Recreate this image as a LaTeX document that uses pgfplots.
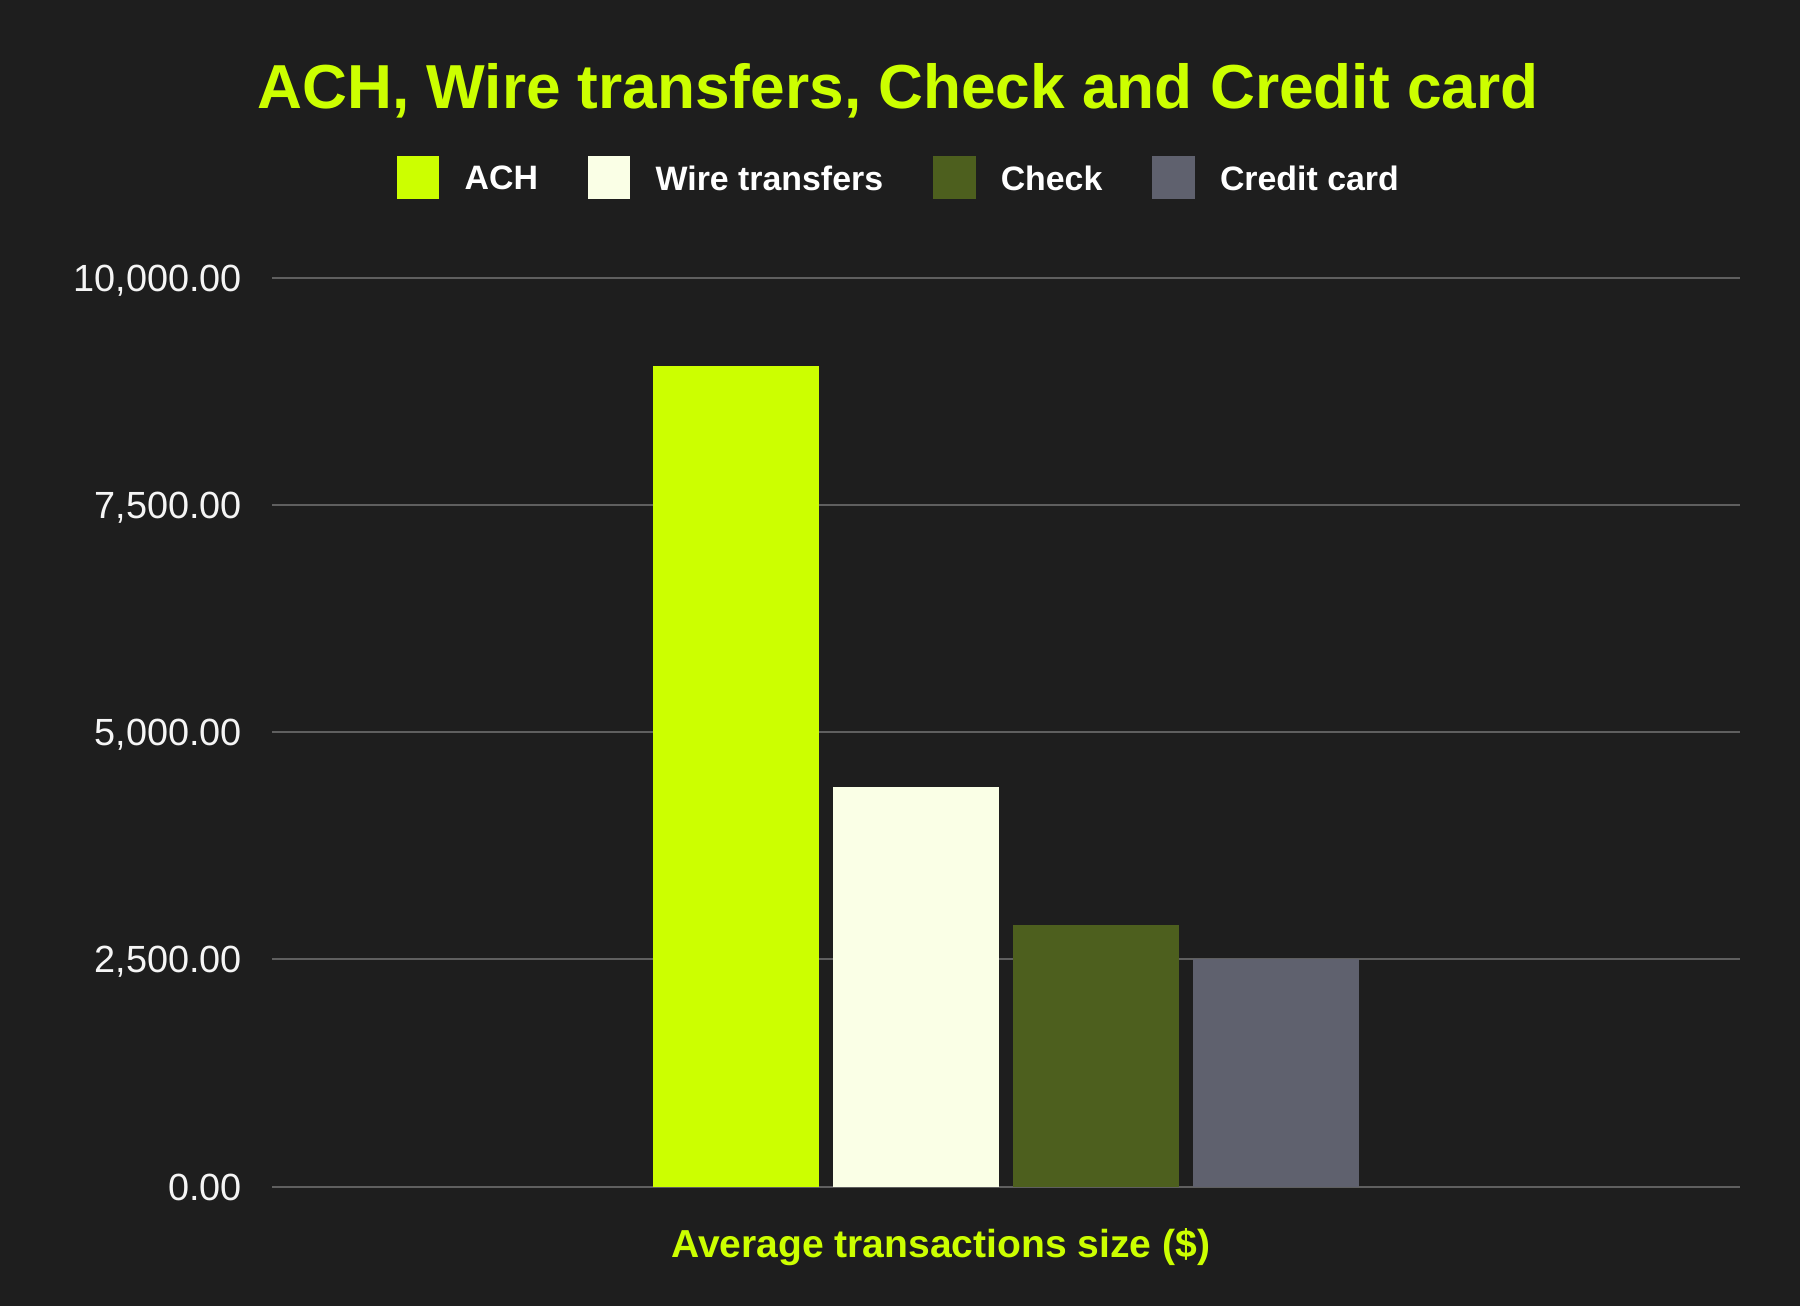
\documentclass[border=0pt]{standalone}
\usepackage{fontspec}
\setmainfont{Liberation Sans}
\usepackage{pgfplots}
\pgfplotsset{compat=1.18}

\definecolor{bg}{HTML}{1E1E1E}
\definecolor{lime}{HTML}{CCFF00}
\definecolor{wire}{HTML}{FAFFE6}
\definecolor{checkc}{HTML}{4D5F1E}
\definecolor{credit}{HTML}{5F616E}
\definecolor{gridc}{HTML}{5F5F5F}

\begin{document}
\begin{tikzpicture}
    \path[use as bounding box, fill=bg] (0,0) rectangle (450bp,326.5bp);
    \begin{axis}[
        at={(68bp,29.85bp)}, anchor=south west,
        scale only axis,
        width=367bp, height=227.2bp,
        ybar=3.5bp, bar width=41.5bp,
        xmin=-1, xmax=1,
        ymin=0, ymax=10000,
        enlargelimits=false,
        axis line style={draw=none},
        major tick length=0pt,
        xtick=\empty,
        ytick={0,2500,5000,7500,10000},
        ymajorgrids,
        major grid style={draw=gridc, line width=0.5bp},
        /pgf/number format/assume math mode=true,
        scaled y ticks=false,
        yticklabel={\pgfmathprintnumber[fixed, fixed zerofill, precision=2, 1000 sep={,}]{\tick}},
        yticklabel style={font=\fontsize{9.5}{11}\selectfont, color=white!96!black,
            anchor=base east, inner sep=0pt, xshift=-7.3bp, yshift=-3.4bp},
        title={ACH, Wire transfers, Check and Credit card},
        every axis title/.style={at={(axis description cs:0.4264,1.1864)}, anchor=base,
            font=\bfseries\fontsize{15.6}{18}\selectfont, color=lime, inner sep=0pt},
        xlabel={Average transactions size (\$)},
        xlabel style={at={(axis description cs:0.4556,-0.0777)}, anchor=base,
            font=\bfseries\fontsize{9.8}{12}\selectfont, color=lime, inner sep=0pt},
        legend columns=4,
        legend image code/.code={%
            \fill[#1] (0bp,-4.4bp) rectangle (10.6bp,6.2bp);
        },
        legend style={
            at={(axis description cs:0.4264,1.1105)}, anchor=center,
            draw=none, fill=none, inner sep=0pt,
            font=\bfseries\fontsize{8.5}{10}\selectfont, text=white,
            nodes={inner sep=0pt},
            /tikz/every odd column/.append style={column sep=6.3bp},
            /tikz/every even column/.append style={column sep=12.5bp},
        },
    ]
    \addplot[draw=none, fill=lime] coordinates {(0,9030)};
    \addplot[draw=none, fill=wire] coordinates {(0,4400)};
    \addplot[draw=none, fill=checkc] coordinates {(0,2880)};
    \addplot[draw=none, fill=credit] coordinates {(0,2500)};
    \legend{ACH, Wire transfers, Check, Credit card}
    \end{axis}
\end{tikzpicture}
\end{document}
